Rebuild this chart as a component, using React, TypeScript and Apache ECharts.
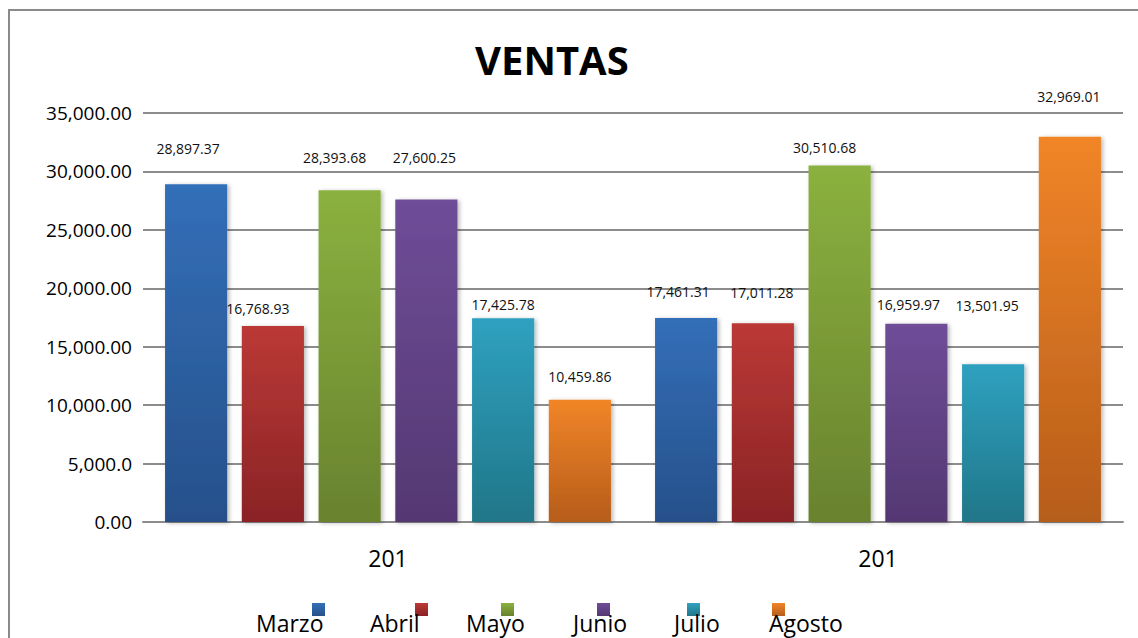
import React, { useEffect, useRef } from "react";
import * as echarts from "echarts";

const categories = ["201", "201"];
const seriesNames = ["Marzo", "Abril", "Mayo", "Junio", "Julio", "Agosto"];
const marzo = [28897.37, 17461.31];
const abril = [16768.93, 17011.28];
const mayo = [28393.68, 30510.68];
const junio = [27600.25, 16959.97];
const julio = [17425.78, 13501.95];
const agosto = [10459.86, 32969.01];
const yTickLabels = [
  "0.00",
  "5,000.0",
  "10,000.00",
  "15,000.00",
  "20,000.00",
  "25,000.00",
  "30,000.00",
  "35,000.00",
];

// styling (not data)
const seriesValues = [marzo, abril, mayo, junio, julio, agosto];
const topColors = ["#336fb8", "#bb3936", "#8bb13f", "#6f4d98", "#2fa1c0", "#f18528"];
const bottomColors = ["#26508a", "#8a2325", "#68822e", "#533872", "#207688", "#b65d1a"];
const labelRise = [
  [36, 26],
  [18, 31],
  [33, 18],
  [42, 19],
  [14, 59],
  [23, 40],
];
const labelShiftX = [
  [-8, -8],
  [-15, -1],
  [-15, -15],
  [-2, -8],
  [0, -6],
  [0, -1],
];
const iconLeft = [312, 415, 501, 597, 687, 772];
const textLeft = [256, 370, 466, 573, 674, 769];

const FONT = "'Open Sans', 'Noto Sans', sans-serif";

const fmt = (v: number) =>
  v.toLocaleString("en-US", { minimumFractionDigits: 2, maximumFractionDigits: 2 });

export default function App() {
  const ref = useRef<HTMLDivElement>(null);
  useEffect(() => {
    if (!ref.current) return;
    const chart = echarts.init(ref.current, null, { renderer: "svg" });
    const grad = (i: number) =>
      new echarts.graphic.LinearGradient(0, 0, 0, 1, [
        { offset: 0, color: topColors[i] },
        { offset: 1, color: bottomColors[i] },
      ]);
    const series = seriesNames.map((name, i) => ({
      name,
      type: "bar",
      barGap: "23.5%",
      barCategoryGap: "9%",
      itemStyle: {
        color: grad(i),
        shadowBlur: 4,
        shadowColor: "rgba(0,0,0,0.28)",
        shadowOffsetX: 2,
        shadowOffsetY: 1,
      },
      data: seriesValues[i].map((v, j) => ({
        value: v,
        label: {
          offset: [labelShiftX[i][j], 7 - labelRise[i][j]],
        },
      })),
      label: {
        show: true,
        position: "top",
        distance: 0,
        fontSize: 14,
        lineHeight: 14,
        fontFamily: FONT,
        color: "#111",
        formatter: (p: any) => fmt(p.value),
      },
    }));
    const iconLegends = seriesNames.map((name, i) => ({
      data: [name],
      left: iconLeft[i],
      top: 603,
      padding: 0,
      itemWidth: 13,
      itemHeight: 13,
      icon: "rect",
      selectedMode: false,
      formatter: () => "",
      textStyle: { fontSize: 1 },
    }));
    const textLegends = seriesNames.map((name, i) => ({
      data: [name],
      left: textLeft[i] - 5,
      top: 611,
      padding: 0,
      itemWidth: 0,
      itemHeight: 0,
      icon: "rect",
      selectedMode: false,
      textStyle: { fontSize: 23, lineHeight: 24, color: "#000", fontFamily: FONT },
    }));
    chart.setOption({
      animation: false,
      backgroundColor: "#fff",
      title: {
        text: "VENTAS",
        left: 475,
        top: 39,
        padding: 0,
        textStyle: {
          fontSize: 40,
          lineHeight: 40,
          fontWeight: "bold",
          color: "#000",
          fontFamily: FONT,
        },
      },
      graphic: [
        {
          type: "rect",
          shape: { x: 9, y: 10, width: 1150, height: 650 },
          style: { fill: "none", stroke: "#8a8a8a", lineWidth: 2 },
          silent: true,
        },
      ],
      legend: [...iconLegends, ...textLegends],
      grid: { left: 143, right: 15, top: 113, bottom: 116 },
      xAxis: {
        type: "category",
        data: categories,
        axisTick: { show: false },
        axisLine: { lineStyle: { color: "#8c8c8c", width: 2 } },
        axisLabel: {
          fontSize: 23,
          color: "#000",
          fontFamily: FONT,
          margin: 24,
        },
      },
      yAxis: {
        type: "value",
        min: 0,
        max: 35000,
        interval: 5000,
        axisLine: { show: false },
        axisTick: { show: false },
        splitLine: { lineStyle: { color: "#8c8c8c", width: 2 } },
        axisLabel: {
          fontSize: 19,
          color: "#000",
          fontFamily: FONT,
          margin: 11,
          formatter: (v: number) => yTickLabels[Math.round(v / 5000)] ?? "",
        },
      },
      series,
    });
    return () => chart.dispose();
  }, []);
  return (
    <div
      ref={ref}
      style={{ position: "fixed", left: 0, top: 0, width: 1138, height: 638 }}
    />
  );
}
